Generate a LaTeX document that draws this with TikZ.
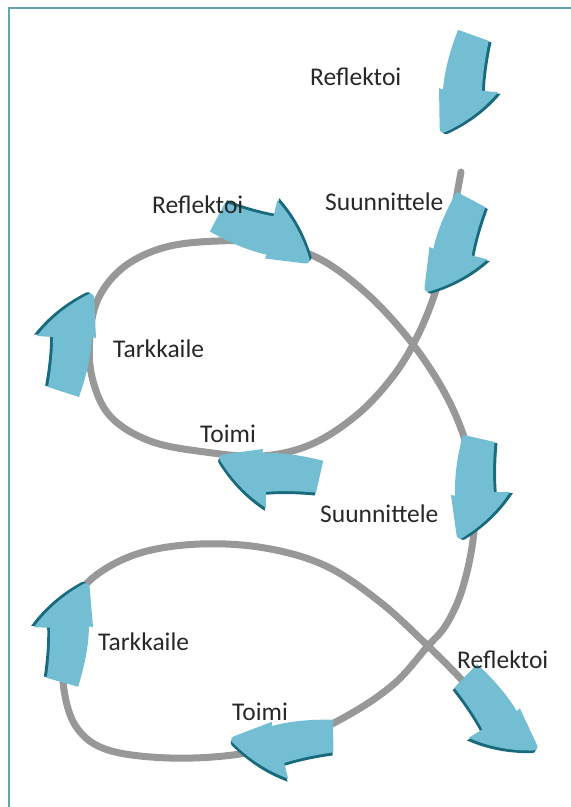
\documentclass[tikz,border=0pt]{standalone}
\usepackage{fontspec}
\setmainfont{Carlito}
\definecolor{loopgray}{RGB}{152,152,152}
\definecolor{arrowfill}{RGB}{116,190,212}
\definecolor{arrowedge}{RGB}{24,106,124}
\definecolor{framecol}{RGB}{104,164,170}
\definecolor{labelcol}{RGB}{40,40,40}

% outline of one curved block arrow, pointing along +x, tip on the right-hand side
\def\blockarrowpath{(-50,-25) .. controls (-33,-22) and (-16,-20) .. (0,-20)
  -- (1,-36) .. controls (19,-22) and (33,-4) .. (43,16)
  .. controls (44,19) and (42,21) .. (39,21)
  -- (-1,23) -- (0,19)
  .. controls (-20,18) and (-40,13) .. (-60,6) -- cycle}

% #1,#2 position of the head base, #3 heading, #4 extra options (scale, mirror)
\newcommand{\blockarrow}[4]{%
  \begin{scope}[shift={(#1,#2)},rotate=#3,#4]
    \fill[arrowedge] [shift={(1.5,-2.8)}] \blockarrowpath;
    \fill[arrowfill] \blockarrowpath;
  \end{scope}}

\begin{document}
\begin{tikzpicture}[x=1pt,y=-1pt,
  loopline/.style={draw=loopgray,line width=7pt,line cap=round},
  steplabel/.style={anchor=base west,inner sep=0pt,text=labelcol,
    font=\fontsize{25.5}{30}\selectfont}]
\useasboundingbox (0,0) rectangle (571,807);
\fill[white] (0,0) rectangle (571,807);

% frame
\draw[framecol,line width=1.8pt] (9,812) -- (9,8) -- (576,8);

% the spiral path
\draw[loopline] plot[smooth,tension=0.6] coordinates {
  (461,172) (455,205) (447,245) (436,290) (418,335) (394,375) (358,414)
  (312,444) (262,456) (205,452) (150,441) (110,416) (92,377) (90,335)
  (99,297) (125,266) (166,247) (218,241) (268,243) (318,258) (365,292)
  (408,338) (442,388) (464,437) (475,488) (473,540) (462,590) (446,625)
  (427,647) (395,683) (352,713) (300,738) (240,754) (170,758) (108,750)
  (77,728) (64,690) (64,645) (72,606) (95,576) (140,553) (200,544)
  (265,548) (326,566) (380,602) (427,645) (460,678) (478,700)};

% arrows
\blockarrow{462}{90}{-92}{}
\blockarrow{452}{252}{-100}{}
\blockarrow{264}{472}{185}{}
\blockarrow{73}{337}{90}{}
\blockarrow{270}{236}{-10}{}
\blockarrow{474}{494}{-85}{}
\blockarrow{500}{720}{-62}{yscale=-1}
\blockarrow{278}{744}{198}{}
\blockarrow{70}{627}{92}{}

% labels
\node[steplabel] (r0) at (310,85)  {Reflektoi};
\node[steplabel] (s1) at (325,210) {Suunnittele};
\node[steplabel] (r1) at (152,213) {Reflektoi};
\node[steplabel] (t1) at (113,357) {Tarkkaile};
\node[steplabel] (a1) at (200,442) {Toimi};
\node[steplabel] (s2) at (320,522) {Suunnittele};
\node[steplabel] (r2) at (457,668) {Reflektoi};
\node[steplabel] (t2) at (98,650)  {Tarkkaile};
\node[steplabel] (a2) at (232,720) {Toimi};
\end{tikzpicture}
\end{document}
